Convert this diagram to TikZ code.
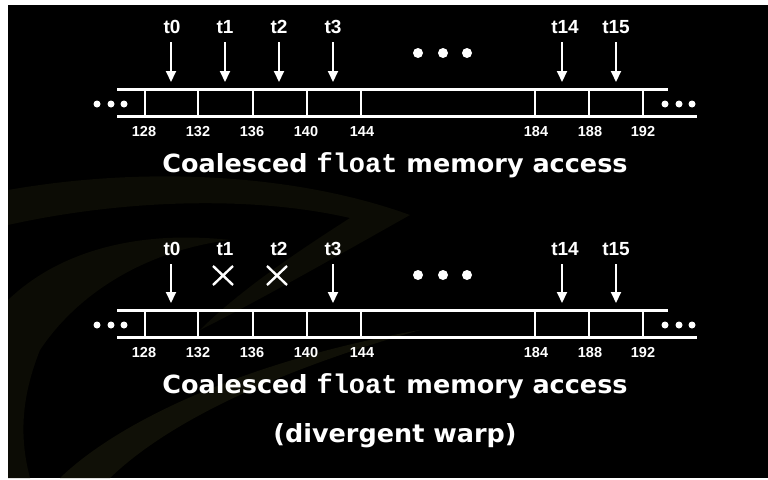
\documentclass[tikz,border=0pt]{standalone}
\usepackage{fontspec}
\usetikzlibrary{arrows.meta}
\newfontfamily\labelfont{Liberation Sans}
\newfontfamily\capfont[FakeStretch=1.02]{DejaVu Sans}
\newfontfamily\codefont{Liberation Mono}
\definecolor{swoosh}{RGB}{12,12,5}
\definecolor{swooshlite}{RGB}{16,16,7}
\tikzset{
  thread/.style={font=\labelfont\bfseries\fontsize{19}{21}\selectfont, text=white, inner sep=0pt},
  addr/.style={font=\labelfont\bfseries\fontsize{14.5}{16}\selectfont, text=white, inner sep=0pt},
  caption/.style={font=\capfont\bfseries\fontsize{25}{28}\selectfont, text=white, inner sep=0pt},
  access/.style={draw=white, line width=2pt, -{Triangle[length=11pt,width=10pt]}},
  rail/.style={draw=white, line width=3pt},
  cell/.style={draw=white, line width=2.6pt},
  miss/.style={draw=white, line width=2.4pt},
  dot/.style={circle, fill=white, inner sep=0pt},
}
\newcommand\codeword[1]{{\codefont\fontsize{27}{28}\selectfont #1}}
\begin{document}
\begin{tikzpicture}[x=1pt, y=-1pt]
  % page and slide background
  \fill[white] (0,0) rectangle (768,479);
  \fill[black] (8,5) rectangle (768,478);
  % faint logo swoosh behind the content
  \begin{scope}
    \clip (8,5) rectangle (768,478);
    \fill[swoosh] (8,190) .. controls (150,165) and (300,175) .. (410,215)
      .. controls (330,260) and (260,300) .. (200,330)
      .. controls (240,290) and (300,250) .. (350,218)
      .. controls (250,195) and (120,200) .. (8,225) -- cycle;
    \fill[swoosh] (8,300) .. controls (60,250) and (140,230) .. (230,240)
      .. controls (150,250) and (80,290) .. (40,350)
      .. controls (20,400) and (20,440) .. (30,478) -- (8,478) -- cycle;
    \fill[swooshlite] (60,478) .. controls (120,420) and (250,360) .. (420,330)
      .. controls (280,370) and (170,420) .. (110,478) -- cycle;
  \end{scope}

  % ---------- coalesced access ----------
  \foreach \n/\x/\ax in {0/172/171, 1/225/225, 2/279/279, 3/333/333, 14/565/562, 15/616/616} {
    \node[thread] (ta\n) at (\x,27) {t\n};
    \coordinate (pa\n) at (\ax,82);
    \draw[access] (\ax,42) -- (pa\n);
  }
  \draw[rail] (117,89.5) -- (668,89.5);
  \draw[rail] (117,116) -- (697,116);
  \foreach \x in {145,198,253,307,361,535,589,643}
    \draw[cell] (\x,89.5) -- (\x,116);
  \foreach \x in {97,111,124,665,679,692}
    \node[dot, minimum size=7pt] at (\x,104) {};
  \foreach \x in {418,443,467}
    \node[dot, minimum size=10pt] at (\x,53) {};
  \foreach \a/\x in {128/144,132/198,136/252,140/306,144/362,184/536,188/590,192/643}
    \node[addr] (aa\a) at (\x,132) {\a};
  \node[caption] (capa) at (395,165) {Coalesced \codeword{float} memory access};

  % ---------- divergent warp ----------
  \foreach \n/\x in {0/172, 1/225, 2/279, 3/333, 14/565, 15/616}
    \node[thread] (tb\n) at (\x,249) {t\n};
  \foreach \n/\ax in {0/171, 3/333, 14/562, 15/616} {
    \coordinate (pb\n) at (\ax,303);
    \draw[access] (\ax,264) -- (pb\n);
  }
  \foreach \x in {223,277}
    \draw[miss] (\x-10,266) -- (\x+10,285) (\x-10,285) -- (\x+10,266);
  \draw[rail] (117,310.5) -- (668,310.5);
  \draw[rail] (117,337) -- (697,337);
  \foreach \x in {145,198,253,307,361,535,589,643}
    \draw[cell] (\x,310.5) -- (\x,337);
  \foreach \x in {97,111,124,665,679,692}
    \node[dot, minimum size=7pt] at (\x,325) {};
  \foreach \x in {418,443,467}
    \node[dot, minimum size=10pt] at (\x,275) {};
  \foreach \a/\x in {128/144,132/198,136/252,140/306,144/362,184/536,188/590,192/643}
    \node[addr] (ab\a) at (\x,353) {\a};
  \node[caption] (capb) at (395,386) {Coalesced \codeword{float} memory access};
  \node[caption] (capc) at (395,436) {(divergent warp)};
\end{tikzpicture}
\end{document}
